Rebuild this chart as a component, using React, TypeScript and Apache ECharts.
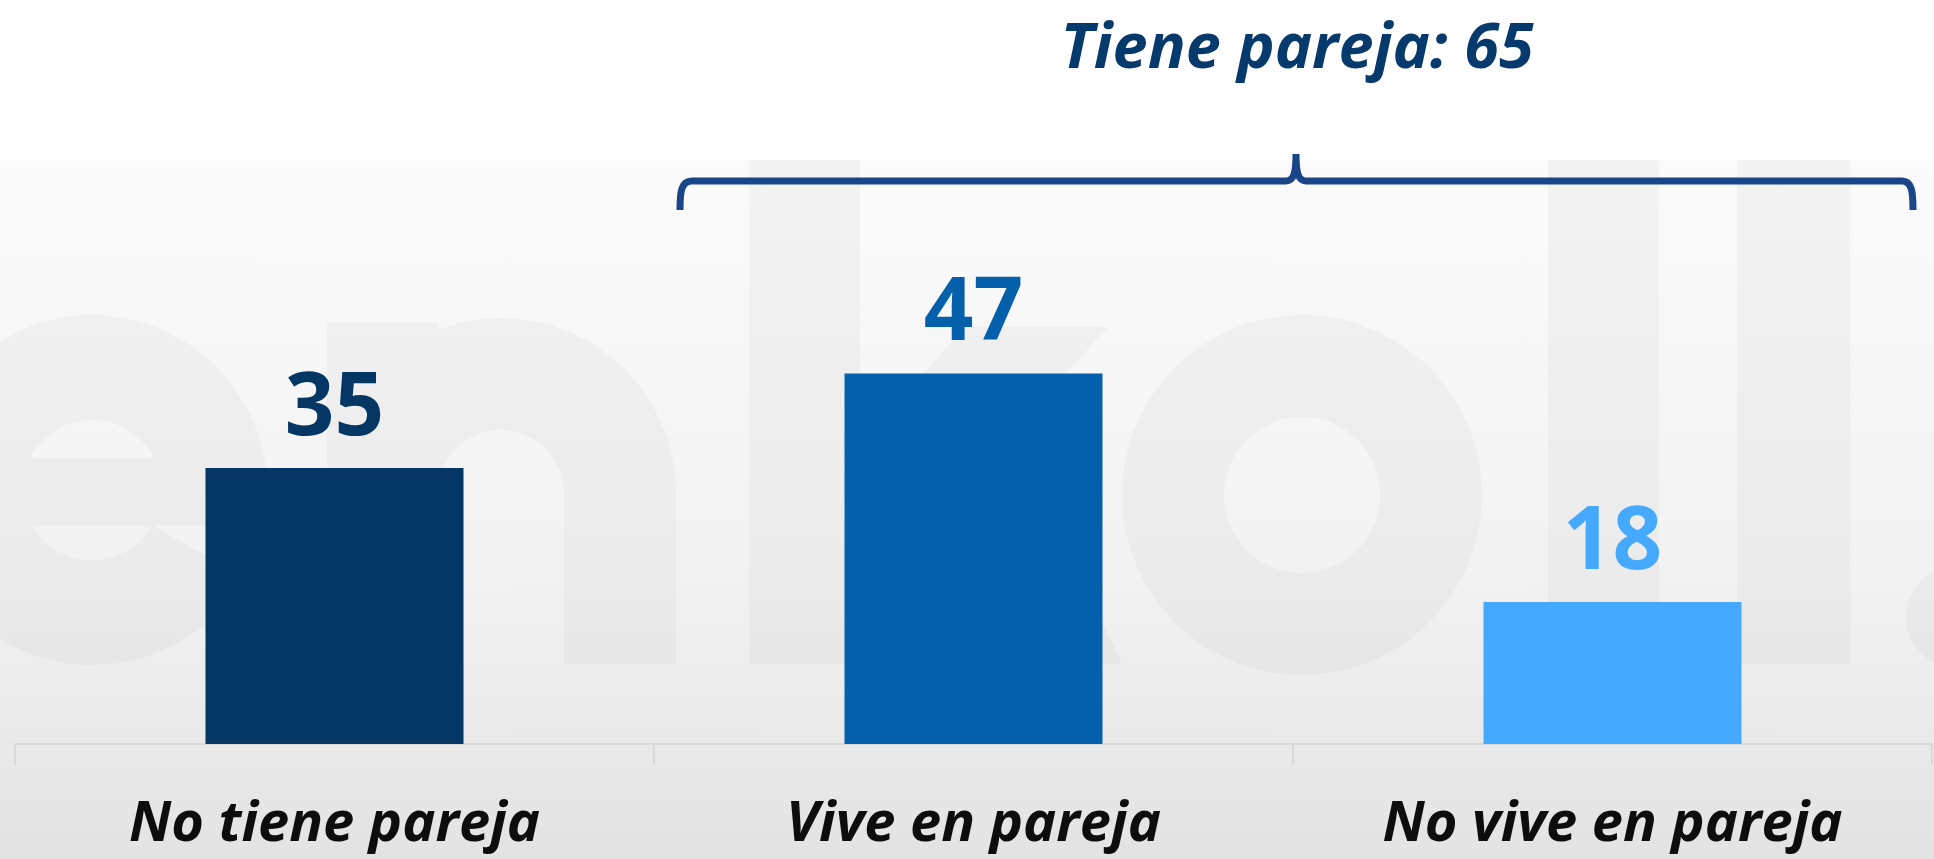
import React, { useEffect, useRef } from "react";
import * as echarts from "echarts";

const categories = ["No tiene pareja", "Vive en pareja", "No vive en pareja"];
const values = [35, 47, 18];
const barColors = ["#043764", "#0560AC", "#45AAFD"];
const bracketTitle = "Tiene pareja";

const W = 1934;
const H = 859;
const FONT = '"Open Sans", "Noto Sans", sans-serif';

const bgFill = {
  type: "linear", x: 0, y: 160, x2: 0, y2: 859, global: true,
  colorStops: [
    { offset: 0, color: "#fbfbfb" },
    { offset: 0.6, color: "#f2f2f2" },
    { offset: 1, color: "#e3e3e3" },
  ],
};
const wmFill = {
  type: "linear", x: 0, y: 160, x2: 0, y2: 859, global: true,
  colorStops: [
    { offset: 0, color: "#f3f3f3" },
    { offset: 0.6, color: "#ebebeb" },
    { offset: 1, color: "#dcdcdc" },
  ],
};

export default function App() {
  const ref = useRef<HTMLDivElement>(null);
  useEffect(() => {
    const el = ref.current!;
    const bracePath =
      "M680,210 C680,192 681,181 692,181 L1286,181 C1294,181 1296,172 1296,154 C1296,172 1298,181 1306,181 L1902,181 C1912,181 1913,192 1913,210";
    echarts.graphic.registerShape("brace", echarts.graphic.extendPath(bracePath, {}) as any);
    const chart = echarts.init(el, null, { renderer: "svg", width: W, height: H });
    const total = values[1] + values[2];
    const wm = (o: any) => ({ ...o, z: -5, silent: true, style: { fill: wmFill } });
    const option: any = {
      animation: false,
      backgroundColor: "#fefefe",
      grid: { left: 15, right: 2, top: 271, bottom: 115, containLabel: false },
      xAxis: {
        type: "category",
        data: categories,
        axisLine: { lineStyle: { color: "#d9d9d9", width: 2 } },
        axisTick: { show: true, length: 21, lineStyle: { color: "#d9d9d9", width: 2 } },
        axisLabel: {
          margin: 47,
          fontSize: 56,
          lineHeight: 56,
          fontWeight: "bold",
          fontStyle: "italic",
          fontFamily: FONT,
          color: "#0d0d0d",
        },
      },
      yAxis: { type: "value", min: 0, max: 60, show: false, splitLine: { show: false } },
      series: [
        {
          type: "bar",
          barWidth: 258,
          z: 5,
          data: values.map((v, i) => ({
            value: v,
            itemStyle: { color: barColors[i] },
            label: { color: barColors[i] },
          })),
          label: {
            show: true,
            position: "top",
            distance: 24,
            fontSize: 87,
            fontWeight: "bold",
            fontFamily: FONT,
          },
        },
      ],
      graphic: [
        { type: "rect", z: -10, silent: true, shape: { x: 0, y: 160, width: W, height: H - 160 }, style: { fill: bgFill } },
        // watermark "enkoll."
        wm({ type: "sector", shape: { cx: 92, cy: 490, r: 175, r0: 70, startAngle: Math.PI / 6, endAngle: Math.PI * 2, clockwise: true } }),
        wm({ type: "rect", shape: { x: 22, y: 458, width: 243, height: 68 } }),
        wm({ type: "rect", shape: { x: 327, y: 323, width: 111, height: 341 } }),
        wm({ type: "sector", shape: { cx: 501, cy: 493, r: 175, r0: 63, startAngle: Math.PI, endAngle: Math.PI * 2, clockwise: true } }),
        wm({ type: "rect", shape: { x: 564, y: 492, width: 112, height: 172 } }),
        wm({ type: "rect", shape: { x: 749, y: 160, width: 111, height: 504 } }),
        wm({ type: "polygon", shape: { points: [[860, 443], [965, 327], [1108, 327], [860, 600]] } }),
        wm({ type: "polygon", shape: { points: [[930, 520], [1010, 430], [1122, 664], [985, 664]] } }),
        wm({ type: "ring", shape: { cx: 1302, cy: 495, r: 180, r0: 78 } }),
        wm({ type: "rect", shape: { x: 1548, y: 160, width: 111, height: 504 } }),
        wm({ type: "rect", shape: { x: 1737, y: 160, width: 113, height: 504 } }),
        wm({ type: "circle", shape: { cx: 1957, cy: 617, r: 51 } }),
        // brace
        { type: "brace", z: 10, silent: true, style: { fill: "none", stroke: "#1B4589", lineWidth: 7 } },
        {
          type: "text",
          z: 10,
          x: 1297,
          y: 43,
          style: {
            text: `${bracketTitle}: ${total}`,
            fontSize: 63,
            lineHeight: 63,
            fontWeight: "bold",
            fontStyle: "italic",
            fontFamily: FONT,
            fill: "#063a6c",
            align: "center",
            verticalAlign: "middle",
          },
        },
      ],
    };
    chart.setOption(option);
    return () => chart.dispose();
  }, []);
  return <div ref={ref} style={{ position: "absolute", left: 0, top: 0, width: W, height: H }} />;
}
